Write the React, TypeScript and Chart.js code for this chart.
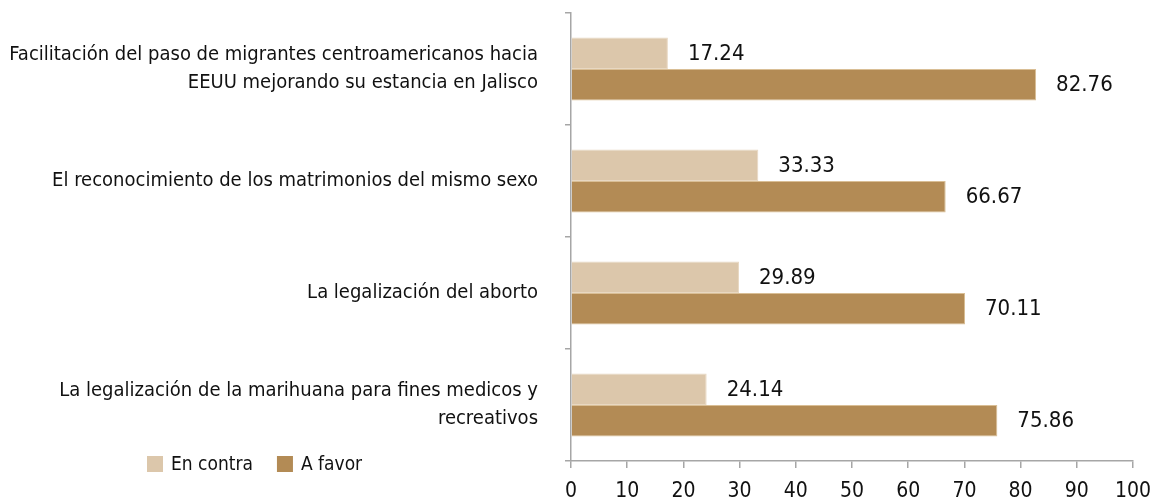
import React, { useEffect, useRef } from "react";
import { Chart, registerables } from "chart.js";

Chart.register(...registerables);

const categories: (string | string[])[] = [
  ["Facilitación del paso de migrantes centroamericanos hacia", "EEUU mejorando su estancia en Jalisco"],
  "El reconocimiento de los matrimonios del mismo sexo",
  "La legalización del aborto",
  ["La legalización de la marihuana para fines medicos y", "recreativos"],
];
const enContra = [17.24, 33.33, 29.89, 24.14];
const aFavor = [82.76, 66.67, 70.11, 75.86];
const seriesNames = ["En contra", "A favor"];
const colors = ["#DCC7AB", "#B38B55"];
const xTicks = [0, 10, 20, 30, 40, 50, 60, 70, 80, 90, 100];

const FONT = "'DejaVu Sans Condensed', 'Liberation Sans Narrow', sans-serif";

const labelPlugin = {
  id: "valueLabels",
  afterDatasetsDraw(chart: any) {
    const ctx = chart.ctx;
    ctx.save();
    ctx.font = `22px ${FONT}`;
    ctx.fillStyle = "#111111";
    ctx.textBaseline = "middle";
    ctx.textAlign = "left";
    chart.data.datasets.forEach((ds: any, di: number) => {
      const meta = chart.getDatasetMeta(di);
      meta.data.forEach((el: any, i: number) => {
        ctx.fillText(Number(ds.data[i]).toFixed(2), el.x + 20, el.y + 1);
      });
    });
    ctx.restore();
  },
};

const legendPlugin = {
  id: "customLegend",
  afterDraw(chart: any) {
    const ctx = chart.ctx;
    const area = chart.chartArea;
    ctx.save();
    ctx.font = `19px ${FONT}`;
    ctx.textBaseline = "middle";
    ctx.textAlign = "left";
    let x = area.left - 424;
    const y = area.bottom + 3;
    chart.data.datasets.forEach((ds: any) => {
      ctx.fillStyle = ds.backgroundColor;
      ctx.fillRect(x, y - 8, 16, 16);
      ctx.fillStyle = "#111111";
      ctx.fillText(ds.label, x + 24, y + 1);
      x += 24 + ctx.measureText(ds.label).width + 24;
    });
    ctx.restore();
  },
};

export default function App() {
  const ref = useRef<HTMLCanvasElement | null>(null);
  useEffect(() => {
    if (!ref.current) return;
    const chart = new Chart(ref.current, {
      type: "bar",
      data: {
        labels: categories,
        datasets: [
          { label: seriesNames[0], data: enContra, backgroundColor: colors[0], borderColor: "#E8D8C2", borderWidth: 1 },
          { label: seriesNames[1], data: aFavor, backgroundColor: colors[1], borderColor: "#D9BE95", borderWidth: 1 },
        ],
      },
      options: {
        indexAxis: "y",
        animation: false,
        responsive: false,
        maintainAspectRatio: false,
        layout: { padding: { left: 0, right: 27, top: 13, bottom: 0 } },
        datasets: { bar: { categoryPercentage: 0.5625, barPercentage: 1 } },
        plugins: { legend: { display: false }, tooltip: { enabled: false } },
        scales: {
          x: {
            min: 0,
            max: 100,
            afterBuildTicks: (s: any) => { s.ticks = xTicks.map((v) => ({ value: v })); },
            afterFit: (s: any) => { s.height = 41; s.paddingLeft = 0; s.paddingRight = 0; },
            grid: { drawOnChartArea: false, tickLength: 7, color: "#A6A6A6", lineWidth: 1.5 },
            border: { color: "#A6A6A6", width: 1.5 },
            ticks: { font: { family: FONT, size: 21 }, color: "#111111", padding: 11, maxRotation: 0, autoSkip: false },
          },
          y: {
            afterFit: (s: any) => { s.width = 571; s.paddingTop = 0; s.paddingBottom = 0; },
            grid: { drawOnChartArea: false, tickLength: 6, color: "#A6A6A6", lineWidth: 1.5, offset: true },
            border: { color: "#A6A6A6", width: 1.5 },
            ticks: { font: { family: FONT, size: 20, lineHeight: 1.4 }, color: "#111111", padding: 27 },
          },
        },
      },
      plugins: [labelPlugin, legendPlugin],
    });
    return () => chart.destroy();
  }, []);
  return (
    <div style={{ position: "absolute", left: 0, top: 0, width: 1160, height: 502, background: "#fff" }}>
      <canvas ref={ref} width={1160} height={502} style={{ display: "block" }} />
    </div>
  );
}
